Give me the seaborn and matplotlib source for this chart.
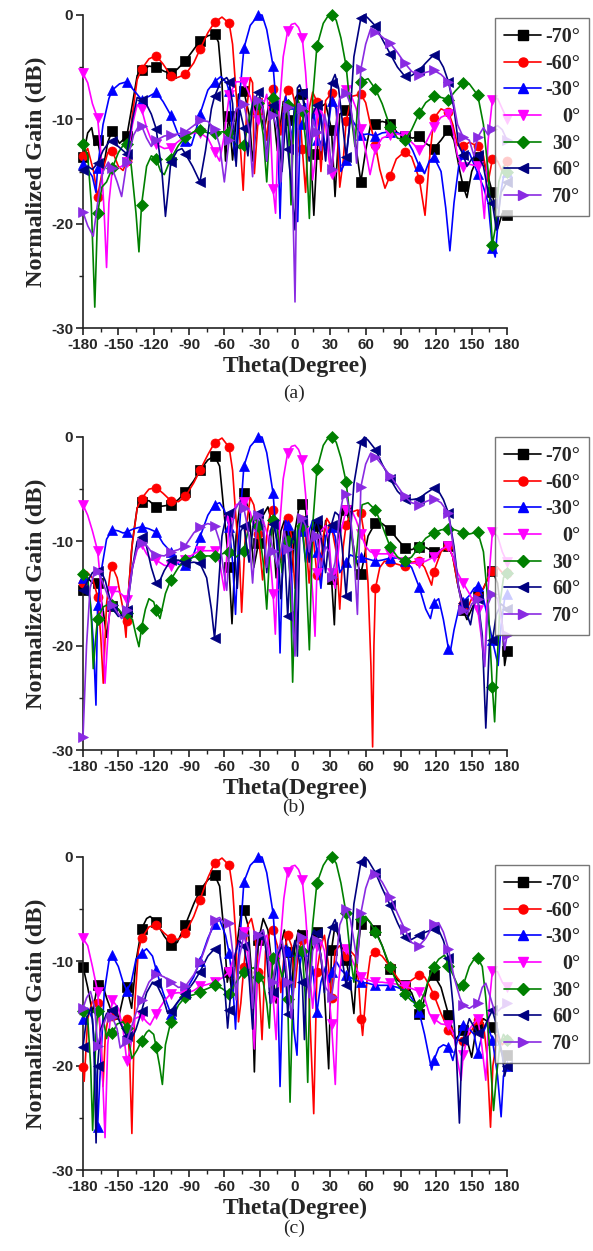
import numpy as np
import matplotlib
matplotlib.use("Agg")
import matplotlib.pyplot as plt
import seaborn as sns
from matplotlib.lines import Line2D

SERIES_LABELS = ["-70°", "-60°", "-30°", "0°", "30°", "60°", "70°"]
COLORS = ["#000000", "#ff0000", "#0000ff", "#ff00ff", "#008000", "#000080", "#8a2be2"]
MARKERS = ["s", "o", "^", "v", "D", "<", ">"]
PANEL_TAGS = ["(a)", "(b)", "(c)"]
X_TICKS = [-180, -150, -120, -90, -60, -30, 0, 30, 60, 90, 120, 150, 180]
Y_TICKS = [0, -10, -20, -30]

# ---------------- panel (a) ----------------
A_M70 = [(-180,-13.6),(-176,-11.3),(-172.6,-10.8),(-170,-12.5),(-167.6,-12.0),(-163,-14.8),(-159,-12.2),(-155.2,-11.1),(-149,-12.3),(-142.8,-11.6),(-138,-8.5),(-134,-5.8),(-130.3,-5.3),(-124,-4.9),(-117.9,-5.0),(-111,-5.4),(-105.5,-5.6),(-100,-5.2),(-93.1,-4.4),(-86,-3.3),(-80.7,-2.5),(-74,-2.0),(-68.3,-1.8),(-65,-2.6),(-62,-6.5),(-59,-14.0),(-57,-10.5),(-55.9,-9.7),(-53,-13.9),(-48,-7.6),(-43.4,-7.3),(-39,-9.5),(-36,-14.0),(-31.0,-8.8),(-26,-11.0),(-22,-8.4),(-18.6,-9.0),(-15,-13.0),(-10,-8.3),(-6.2,-10.1),(-3,-13.0),(0,-8.0),(3,-7.5),(6.2,-7.6),(10,-9.5),(13,-12.5),(16,-19.2),(18.6,-13.3),(22,-8.8),(26,-8.5),(31.0,-11.0),(34,-17.4),(38,-9.5),(43.4,-9.1),(47,-8.8),(51,-12.0),(55.9,-16.0),(60,-13.0),(64,-10.6),(68.3,-10.4),(74,-10.2),(80.7,-10.4),(87,-11.3),(93.1,-11.6),(100,-11.8),(105.5,-11.6),(111,-12.3),(117.9,-12.8),(124,-12.0),(130.3,-11.0),(135,-12.0),(140,-15.0),(142.8,-16.4),(146,-17.5),(150,-15.0),(155.2,-13.6),(160,-14.0),(164,-15.5),(167.6,-17.0),(172,-20.5),(176,-19.0),(180,-19.2)]
A_M60 = [(-180,-13.5),(-176,-12.8),(-171,-15.0),(-167.6,-17.4),(-164,-15.2),(-159,-13.2),(-155.2,-13.0),(-150,-14.5),(-146,-14.9),(-142.8,-14.0),(-138,-9.5),(-134,-6.2),(-130.3,-5.2),(-124,-4.2),(-117.9,-3.9),(-112,-4.7),(-105.5,-5.8),(-100,-6.0),(-93.1,-5.7),(-86,-4.6),(-80.7,-3.3),(-74,-1.7),(-68.3,-0.7),(-62,-0.2),(-55.9,-0.8),(-53,-2.8),(-50,-7.5),(-47,-11.5),(-44,-16.8),(-41,-9.0),(-38,-6.0),(-36,-6.5),(-34.5,-15.2),(-31.0,-9.5),(-28,-8.0),(-24,-12.0),(-21,-8.0),(-18.6,-7.1),(-15,-8.5),(-12,-11.5),(-9,-8.2),(-6.2,-7.2),(-3,-7.0),(0,-8.5),(2,-13.5),(4,-9.0),(6.2,-12.8),(9,-17.0),(12,-9.0),(15,-7.4),(18.6,-8.3),(22,-15.0),(26,-8.2),(31.0,-7.5),(35,-8.8),(38,-16.5),(41,-13.9),(43.4,-10.2),(48,-7.8),(55.9,-7.6),(60,-8.4),(64,-10.5),(68.3,-12.5),(72,-14.8),(76.4,-16.6),(80.7,-15.4),(86,-13.8),(93.1,-13.1),(99,-13.6),(105.5,-15.7),(110.4,-19.2),(114,-14.0),(117.9,-9.9),(124,-9.0),(130.3,-9.3),(134,-10.5),(138,-12.5),(142.8,-12.6),(148,-12.2),(155.2,-12.6),(160,-13.5),(164,-16.0),(167.6,-13.8),(172,-14.0),(176,-15.0),(180,-14.0)]
A_M30 = [(-180,-14.3),(-176,-14.8),(-172,-15.5),(-169,-17.0),(-167.6,-14.7),(-163,-10.5),(-158,-8.0),(-155.2,-7.2),(-149,-6.6),(-142.8,-6.4),(-137,-7.2),(-130.3,-8.1),(-124,-7.8),(-117.9,-7.4),(-112,-8.3),(-105.5,-9.6),(-99,-11.5),(-93.1,-12.1),(-88,-12.5),(-84,-11.0),(-80.7,-9.5),(-74,-7.2),(-68.3,-6.4),(-63,-5.9),(-58,-6.5),(-55.9,-7.3),(-53,-11.5),(-50.5,-14.0),(-48,-9.0),(-43.4,-3.2),(-38,-1.0),(-31.0,0.0),(-28,0.0),(-24,-1.4),(-18.6,-4.9),(-15,-10.0),(-12.7,-19.5),(-10,-9.5),(-8,-7.8),(-6.2,-8.5),(-3,-12.0),(0,-8.8),(2.3,-19.8),(4.5,-10.5),(6.2,-10.4),(9,-8.5),(13,-14.0),(16,-9.0),(18.6,-12.0),(22,-9.5),(26,-13.0),(31.0,-8.2),(35,-9.0),(39,-15.0),(43.4,-13.9),(47,-9.8),(51,-10.5),(55.9,-11.5),(62,-11.4),(68.3,-11.6),(74,-11.3),(80.7,-11.2),(87,-11.3),(93.1,-11.6),(100,-13.0),(105.5,-14.5),(110,-15.2),(114,-14.0),(117.9,-13.6),(124,-15.0),(128,-18.5),(131.5,-22.6),(135,-18.0),(139,-14.5),(142.8,-13.3),(148,-13.2),(155.2,-15.2),(160,-16.5),(164,-18.0),(167.6,-22.3),(170,-23.2),(174,-17.5),(177,-15.5),(180,-15.0)]
A_0 = [(-180,-5.6),(-176,-6.5),(-172,-8.5),(-167.6,-9.9),(-165,-13.0),(-162,-19.0),(-160,-24.2),(-158,-18.0),(-155.2,-14.9),(-150,-14.7),(-146,-14.4),(-142.8,-14.1),(-138,-10.5),(-134,-8.6),(-130.3,-9.0),(-126,-10.8),(-122,-12.0),(-117.9,-12.4),(-111,-12.8),(-105.5,-12.7),(-100,-12.2),(-93.1,-11.6),(-86,-11.3),(-80.7,-11.3),(-74,-11.8),(-68.3,-13.1),(-64,-14.0),(-60,-11.5),(-55.9,-7.7),(-50,-6.4),(-43.4,-6.4),(-38,-7.8),(-34,-9.5),(-31.0,-10.1),(-28,-9.0),(-24,-7.6),(-21,-10.5),(-18.6,-16.7),(-16.5,-19.0),(-14,-10.0),(-10,-4.0),(-6.2,-1.5),(-3,-0.9),(0,-0.8),(3,-1.2),(6.2,-2.2),(9,-5.5),(12,-10.5),(15,-15.8),(17,-14.0),(18.6,-9.4),(22,-9.0),(26,-10.5),(29,-14.0),(31.0,-15.2),(34,-12.0),(38,-8.0),(43.4,-7.2),(48,-7.8),(52,-9.0),(55.9,-10.9),(60,-13.0),(63.7,-15.3),(68.3,-12.8),(74,-11.8),(80.7,-11.5),(87,-11.4),(93.1,-11.6),(99,-12.2),(105.5,-12.9),(110,-12.5),(117.9,-10.7),(124,-9.8),(130.3,-9.5),(134,-11.0),(138,-13.5),(142.8,-14.6),(148,-14.3),(155.2,-14.5),(158,-16.0),(160.8,-19.5),(164,-12.0),(167.6,-8.1),(172,-8.0),(176,-9.0),(180,-10.0)]
A_30 = [(-180,-12.4),(-176,-13.5),(-173,-18.0),(-170,-28.0),(-167.6,-19.0),(-164,-16.5),(-160,-16.0),(-155.2,-14.7),(-150,-13.2),(-146,-12.5),(-142.8,-12.4),(-139,-14.5),(-135,-19.0),(-132.5,-22.7),(-130.3,-18.2),(-126,-14.5),(-122,-13.5),(-117.9,-13.8),(-114,-15.0),(-111,-15.3),(-105.5,-13.8),(-99,-12.5),(-93.1,-11.7),(-86,-11.2),(-80.7,-11.0),(-74,-11.3),(-68.3,-11.3),(-62,-11.2),(-55.9,-11.2),(-51,-12.3),(-47,-12.8),(-43.4,-12.5),(-39,-10.0),(-35,-8.0),(-31.0,-8.4),(-27,-11.5),(-24,-16.0),(-21,-10.0),(-18.6,-8.0),(-15,-9.5),(-11,-14.5),(-8,-9.0),(-6.2,-8.6),(-3.4,-18.2),(-1,-10.0),(2,-8.0),(6.2,-9.2),(9,-12.0),(12.2,-19.5),(15,-8.0),(18.6,-3.0),(24,-0.8),(28,-0.1),(31.0,0.0),(35,-0.5),(39,-2.2),(43.4,-4.9),(47,-9.0),(50.9,-12.6),(53,-9.0),(55.9,-6.4),(62,-6.1),(68.3,-7.1),(74,-8.5),(80.7,-10.7),(87,-11.8),(93.1,-12.0),(99,-11.0),(105.5,-9.4),(111,-8.4),(117.9,-7.8),(124,-7.9),(130.3,-8.1),(136,-7.3),(142.8,-6.5),(148,-6.6),(155.2,-7.7),(160,-10.5),(164,-15.0),(167.6,-22.0),(170,-20.5),(173,-16.0),(177,-14.5),(180,-15.0)]
A_60 = [(-180,-14.9),(-176,-14.5),(-172,-14.8),(-167.6,-14.2),(-163,-13.0),(-158,-12.2),(-155.2,-12.1),(-150,-12.6),(-146,-13.0),(-142.8,-13.3),(-138,-10.0),(-134,-7.9),(-130.3,-8.1),(-126,-8.6),(-122,-9.5),(-117.9,-10.9),(-113,-15.0),(-110,-19.3),(-107,-16.0),(-105.5,-14.1),(-100,-13.0),(-96,-12.8),(-93.1,-13.3),(-87,-14.5),(-80.7,-16.0),(-76,-13.0),(-71,-9.0),(-68.3,-7.8),(-63,-6.4),(-58,-6.0),(-55.9,-6.4),(-53,-8.5),(-50,-14.5),(-47,-9.0),(-43.4,-10.8),(-40,-13.5),(-36,-8.5),(-31.0,-7.4),(-27,-9.0),(-24,-14.0),(-21,-9.0),(-18.6,-8.6),(-15,-10.0),(-11,-15.0),(-8,-10.0),(-6.2,-12.8),(-3,-16.5),(0,-20.6),(2,-7.0),(4,-6.7),(6.2,-7.5),(9,-10.0),(12,-14.0),(15,-9.5),(18.6,-8.6),(22,-10.0),(26,-14.0),(29,-9.5),(31.0,-6.5),(34,-5.7),(37,-7.0),(40,-10.0),(43.4,-13.6),(46,-11.0),(50,-4.0),(55.9,-0.3),(59,0.0),(62,-0.3),(68.3,-1.05),(74,-2.3),(80.7,-3.7),(87,-5.0),(93.1,-5.85),(99,-5.8),(105.5,-5.3),(111,-4.6),(117.9,-3.8),(122,-4.2),(126,-5.0),(130.3,-6.4),(135,-9.0),(139,-12.5),(142.8,-13.4),(146,-14.5),(150,-13.8),(155.2,-13.4),(160,-14.5),(164,-17.0),(167.6,-18.0),(171,-20.6),(175,-17.0),(180,-16.0)]
A_70 = [(-180,-18.9),(-176,-20.2),(-171.3,-21.2),(-167,-17.5),(-163,-15.0),(-158.5,-14.1),(-155.2,-14.7),(-151,-16.0),(-147.2,-17.4),(-144,-15.0),(-142.8,-14.1),(-137,-11.5),(-133,-10.7),(-130.3,-10.6),(-126,-11.8),(-122,-12.6),(-117.9,-12.0),(-111,-11.6),(-105.5,-11.5),(-99,-11.4),(-93.1,-11.2),(-86,-10.6),(-80.7,-10.1),(-74,-10.2),(-68.3,-10.9),(-64,-12.5),(-60,-16.0),(-57,-13.0),(-55.9,-12.0),(-50,-9.0),(-43.4,-8.5),(-39,-11.0),(-36,-15.5),(-33,-9.5),(-31.0,-8.1),(-27,-9.0),(-24,-14.0),(-21,-10.0),(-18.6,-9.6),(-15,-11.0),(-12,-16.0),(-9,-9.5),(-6.2,-8.8),(-3,-12.0),(0,-27.5),(2,-12.0),(4,-8.5),(6.2,-8.9),(9,-9.5),(12,-13.5),(15,-10.0),(18.6,-11.2),(22,-13.0),(25,-9.5),(28,-11.0),(31.0,-14.8),(34,-11.0),(38,-8.0),(43.4,-7.5),(47,-8.5),(50,-11.0),(52.3,-14.2),(55.9,-5.2),(60,-2.8),(64,-1.4),(68.3,-1.6),(74,-2.1),(80.7,-2.7),(87,-3.6),(93.1,-4.6),(99,-5.4),(105.5,-5.75),(111,-5.5),(117.9,-5.3),(124,-5.7),(130.3,-6.4),(134,-8.0),(138,-10.5),(142.8,-11.7),(148,-12.0),(152,-13.5),(155.2,-11.7),(160,-10.8),(164,-11.5),(167.6,-10.9),(172,-10.6),(176,-11.0),(180,-12.0)]

# ---------------- panel (b) ----------------
B_M70 = [(-180,-14.7),(-176,-13.5),(-172,-14.0),(-167.6,-14.0),(-163,-16.5),(-159.9,-19.2),(-157,-16.5),(-155.2,-16.2),(-150,-16.5),(-146,-17.3),(-142.8,-16.8),(-138,-10.0),(-134,-6.8),(-130.3,-6.2),(-124,-6.1),(-117.9,-6.7),(-111,-6.6),(-105.5,-6.5),(-99,-6.0),(-93.1,-5.3),(-86,-4.2),(-80.7,-3.2),(-74,-2.2),(-68.3,-1.8),(-64,-2.8),(-60,-7.5),(-56,-12.5),(-53.5,-17.9),(-50,-9.5),(-46,-5.8),(-43.4,-5.4),(-39,-7.2),(-35,-12.5),(-31.0,-10.2),(-27,-7.5),(-23,-6.7),(-19,-8.5),(-16,-13.5),(-12,-9.0),(-9,-8.0),(-6.2,-9.5),(-3,-13.0),(0,-9.0),(3,-7.0),(6.2,-6.4),(9,-7.0),(12,-11.0),(15,-8.0),(18.6,-8.5),(22,-12.5),(26,-8.0),(31.0,-13.6),(33.4,-18.0),(36,-10.0),(40,-7.2),(43.4,-7.0),(47,-8.5),(51,-11.5),(55.9,-13.1),(58,-12.0),(62,-9.5),(68.3,-8.2),(74,-8.3),(80.7,-8.9),(87,-9.8),(93.1,-10.6),(99,-10.8),(105.5,-10.5),(111,-10.6),(117.9,-11.0),(124,-10.8),(130.3,-10.4),(134,-11.5),(138,-14.0),(142.8,-16.6),(146,-17.5),(150,-16.5),(155.2,-15.2),(160,-14.5),(164,-13.5),(167.6,-12.8),(172,-14.0),(176,-18.0),(178,-21.9),(180,-20.5)]
B_M60 = [(-180,-14.0),(-177,-12.9),(-172,-13.5),(-167.6,-15.3),(-165,-19.0),(-162.8,-23.6),(-160,-16.0),(-157,-13.0),(-155.2,-12.4),(-151,-13.5),(-146,-16.5),(-143.5,-19.2),(-142.8,-17.6),(-139,-11.0),(-134,-6.8),(-130.3,-5.9),(-124,-5.0),(-117.9,-4.85),(-112,-5.4),(-105.5,-6.1),(-99,-6.2),(-93.1,-5.7),(-86,-4.4),(-80.7,-3.2),(-74,-1.7),(-68.3,-0.55),(-62,-0.1),(-55.9,-1.0),(-53,-3.2),(-50,-8.0),(-47,-12.0),(-45.3,-16.8),(-42,-9.0),(-38,-5.8),(-35,-6.5),(-31.0,-9.3),(-27.5,-13.7),(-24,-9.5),(-21,-7.2),(-18.6,-7.0),(-15,-8.5),(-12,-12.0),(-9,-8.5),(-6.2,-7.8),(-3,-9.5),(0,-14.5),(3,-9.5),(6.2,-8.0),(9,-9.5),(12,-14.0),(15,-9.0),(18.6,-13.2),(21.2,-13.4),(24,-9.5),(27,-7.8),(31.0,-8.6),(35,-11.0),(38,-16.5),(41,-10.5),(43.4,-8.4),(48,-7.2),(53,-7.0),(55.9,-7.3),(59,-9.5),(62,-14.0),(64.5,-22.0),(65.9,-29.7),(67,-20.0),(68.3,-14.5),(72,-12.5),(76,-11.9),(80.7,-12.0),(87,-12.2),(93.1,-12.4),(99,-12.0),(105.5,-11.9),(110,-12.5),(116,-14.2),(117.9,-12.9),(124,-11.0),(130.3,-10.4),(134,-11.5),(138,-14.0),(142.8,-16.0),(146,-16.5),(150,-15.5),(155.2,-15.2),(160,-14.5),(164,-13.5),(167.6,-12.8),(172,-12.5),(176,-13.0),(180,-13.0)]
B_M30 = [(-180,-13.5),(-178.3,-13.1),(-174,-15.5),(-171,-20.0),(-169,-25.7),(-167.6,-16.1),(-164,-12.5),(-160,-9.8),(-155.2,-8.9),(-150,-9.0),(-146,-9.2),(-142.8,-9.1),(-137,-8.8),(-130.3,-8.6),(-124,-8.8),(-117.9,-9.1),(-112,-10.2),(-105.5,-11.0),(-99,-12.2),(-93.1,-12.3),(-87,-11.5),(-80.7,-9.6),(-74,-7.5),(-68.3,-6.5),(-64,-6.3),(-60,-7.0),(-55.9,-8.6),(-53,-12.0),(-50.5,-17.0),(-48,-10.0),(-43.4,-2.8),(-38,-0.9),(-31.0,0.0),(-28,0.0),(-24,-1.5),(-18.6,-5.4),(-15,-11.0),(-12.7,-20.7),(-10,-10.0),(-8,-8.0),(-6.2,-8.4),(-3,-12.5),(-1,-20.5),(2,-10.0),(4,-8.0),(6.2,-9.0),(9,-12.0),(12,-9.0),(15,-8.0),(18.6,-11.0),(22,-14.5),(26,-9.5),(31.0,-8.6),(34,-9.5),(38,-13.0),(43.4,-12.0),(47,-11.3),(51,-11.5),(55.9,-11.5),(62,-11.7),(68.3,-11.9),(74,-11.8),(80.7,-11.6),(87,-11.6),(93.1,-11.9),(99,-12.5),(105.5,-14.4),(111,-16.5),(115,-17.4),(117.9,-15.9),(122,-15.5),(126,-17.5),(130.3,-20.3),(132,-20.5),(135,-18.5),(139,-16.5),(142.8,-15.8),(148,-15.2),(152,-14.5),(155.2,-14.3),(160,-15.5),(164,-17.5),(167.6,-19.5),(172.5,-21.9),(175,-18.0),(178,-15.5),(180,-15.0)]
B_0 = [(-180,-6.5),(-176,-7.5),(-172,-9.0),(-167.6,-10.9),(-165,-14.0),(-161.3,-23.6),(-158,-17.5),(-155.2,-14.8),(-150,-14.8),(-146,-15.2),(-142.8,-15.6),(-138,-12.5),(-134,-10.8),(-130.3,-10.3),(-126,-11.2),(-122,-11.8),(-117.9,-11.8),(-111,-12.3),(-105.5,-12.4),(-99,-12.0),(-93.1,-11.8),(-86,-11.2),(-80.7,-10.9),(-74,-10.9),(-68.3,-10.9),(-64,-12.0),(-60,-14.7),(-57,-10.0),(-55.9,-8.0),(-50,-6.5),(-43.4,-6.2),(-38,-7.2),(-34,-9.0),(-31.0,-8.6),(-27,-8.0),(-23,-9.5),(-20,-13.0),(-18.6,-15.0),(-16.7,-18.9),(-14,-10.0),(-10,-4.0),(-6.2,-1.5),(-3,-0.9),(0,-0.8),(3,-1.2),(6.2,-2.2),(9,-5.5),(12,-10.5),(15,-15.0),(17,-19.1),(18.6,-13.0),(22,-9.0),(26,-8.5),(29,-10.0),(31.0,-13.0),(34,-14.5),(38,-9.5),(43.4,-7.0),(48,-7.0),(52,-8.0),(55.9,-9.3),(60,-10.5),(64,-11.0),(68.3,-11.2),(74,-11.2),(80.7,-11.2),(87,-11.6),(93.1,-12.0),(99,-12.1),(105.5,-12.1),(111,-11.9),(117.9,-11.5),(124,-10.8),(130.3,-10.4),(134,-11.5),(138,-13.0),(142.8,-14.0),(148,-15.0),(155.2,-16.6),(158,-19.0),(160.8,-22.0),(163,-16.0),(167.6,-9.1),(172,-9.5),(176,-11.0),(180,-12.0)]
B_30 = [(-180,-13.1),(-176,-13.5),(-173,-17.0),(-171.3,-22.2),(-169,-19.0),(-167.6,-17.4),(-163,-16.3),(-158,-16.0),(-155.2,-16.1),(-150,-16.5),(-146,-17.0),(-142.8,-16.9),(-138,-17.5),(-135,-19.0),(-132.5,-20.1),(-130.3,-18.3),(-127,-16.5),(-124,-15.5),(-120,-15.8),(-117.9,-16.6),(-114.6,-17.4),(-110,-15.0),(-105.5,-13.7),(-99,-12.5),(-93.1,-11.8),(-86,-11.5),(-80.7,-11.4),(-74,-11.4),(-68.3,-11.4),(-62,-11.2),(-55.9,-11.0),(-50,-11.5),(-43.4,-10.9),(-39,-8.5),(-35,-7.5),(-31.0,-8.5),(-27,-12.0),(-24,-16.5),(-21,-10.0),(-18.6,-8.0),(-15,-8.8),(-11,-13.0),(-8,-9.5),(-6.2,-10.0),(-4,-14.0),(-2,-23.5),(0,-15.0),(2,-9.0),(4,-7.8),(6.2,-8.5),(9,-12.0),(12.2,-20.4),(15,-8.5),(18.6,-3.1),(24,-0.8),(28,-0.1),(31.0,0.0),(35,-0.5),(39,-2.0),(43.4,-4.3),(47,-8.0),(51,-12.8),(54,-9.0),(57,-6.5),(62,-6.3),(68.3,-7.0),(74,-8.5),(80.7,-10.5),(87,-11.5),(93.1,-11.9),(99,-11.5),(105.5,-10.5),(111,-9.7),(117.9,-9.2),(124,-8.9),(130.3,-8.8),(136,-8.9),(142.8,-9.2),(148,-9.3),(155.2,-9.1),(160,-11.0),(164,-16.0),(167.6,-24.0),(169.5,-27.3),(171.5,-22.0),(174,-16.0),(177,-13.5),(180,-13.0)]
B_60 = [(-180,-14.7),(-176,-13.8),(-172,-13.0),(-167.6,-12.8),(-165.6,-12.6),(-161,-13.8),(-155.2,-16.4),(-150,-17.2),(-146,-17.0),(-142.8,-16.6),(-138,-12.5),(-134,-10.0),(-130.3,-9.6),(-126,-10.5),(-122,-12.5),(-117.9,-14.0),(-116,-14.1),(-111,-12.8),(-105.5,-11.8),(-99,-11.8),(-93.1,-12.1),(-86,-12.0),(-80.7,-12.1),(-75,-13.5),(-71,-16.5),(-68.3,-19.3),(-66,-16.0),(-62,-9.5),(-58,-7.3),(-55.9,-7.3),(-52,-10.0),(-49,-14.5),(-46,-9.0),(-43.4,-8.5),(-39,-12.0),(-35,-8.0),(-31.0,-7.3),(-27,-9.0),(-24,-13.0),(-21,-9.0),(-18.6,-8.3),(-15,-10.0),(-12,-15.5),(-9,-10.5),(-6.2,-17.2),(-3,-10.0),(0,-9.0),(2,-21.0),(4,-9.5),(6.2,-8.0),(9,-8.5),(12,-12.0),(15,-9.0),(18.6,-8.0),(22,-9.5),(26,-13.0),(29,-9.5),(31.0,-8.4),(34,-7.2),(37,-7.5),(40,-10.5),(43.4,-15.2),(46,-11.0),(50,-4.5),(55.9,-0.5),(59,0.0),(62,-0.3),(68.3,-1.2),(74,-2.6),(80.7,-4.0),(87,-5.2),(93.1,-5.9),(99,-6.0),(105.5,-5.9),(111,-5.4),(117.9,-4.9),(122,-5.2),(126,-6.0),(130.3,-7.3),(135,-10.5),(139,-14.5),(142.8,-15.9),(146,-17.0),(149,-18.0),(152,-16.0),(155.2,-15.5),(159,-19.0),(162,-27.9),(165,-20.0),(167.6,-19.5),(171,-17.0),(175,-16.0),(180,-16.5)]
B_70 = [(-180,-28.8),(-177,-20.0),(-174,-14.5),(-170,-12.8),(-167.6,-12.8),(-163,-14.0),(-158,-15.5),(-155.2,-16.1),(-151,-16.8),(-147.2,-17.4),(-144,-17.0),(-142.8,-16.6),(-138,-12.5),(-134,-10.6),(-130.3,-10.2),(-126,-10.4),(-122,-11.0),(-117.9,-11.3),(-111,-11.4),(-105.5,-11.0),(-99,-10.8),(-93.1,-10.4),(-86,-9.2),(-80.7,-8.6),(-74,-8.3),(-68.3,-8.5),(-64,-10.0),(-61,-12.5),(-58,-14.7),(-55,-10.0),(-51,-7.0),(-47,-6.2),(-43.4,-6.8),(-39,-9.5),(-36,-14.0),(-33,-9.0),(-31.0,-7.5),(-27,-8.0),(-24,-12.5),(-21,-9.5),(-18.6,-10.9),(-15,-12.5),(-12,-11.0),(-9,-9.0),(-6.2,-10.7),(-3,-14.5),(0,-21.0),(2,-13.0),(4,-9.0),(6.2,-7.8),(9,-8.5),(12,-11.0),(15,-9.0),(18.6,-9.5),(22,-12.5),(26,-10.5),(29,-11.0),(31.0,-13.4),(34,-12.0),(38,-7.5),(41,-5.6),(43.4,-5.5),(47,-7.5),(50,-11.0),(53,-17.0),(55.9,-4.8),(60,-2.6),(64,-1.6),(68.3,-1.9),(74,-2.7),(80.7,-3.7),(87,-4.7),(93.1,-5.7),(99,-6.3),(105.5,-6.5),(111,-6.2),(117.9,-5.9),(124,-6.3),(130.3,-7.3),(135,-11.0),(139,-14.5),(142.8,-16.6),(146,-17.0),(150,-16.0),(155.2,-15.5),(158.4,-19.0),(161,-22.0),(164,-16.0),(167.6,-15.0),(172,-15.5),(176,-18.0),(178,-20.4),(180,-19.0)]

# ---------------- panel (c) ----------------
C_M70 = [(-180,-10.5),(-176,-12.5),(-172,-14.9),(-167.6,-12.3),(-164,-12.0),(-160,-13.5),(-155.2,-15.0),(-150,-15.5),(-146,-13.5),(-142.8,-12.5),(-138.7,-14.5),(-135,-10.0),(-130.3,-6.9),(-126,-5.9),(-123,-5.7),(-117.9,-6.2),(-111,-7.6),(-105.5,-8.4),(-100,-8.2),(-93.1,-6.5),(-86,-4.5),(-80.7,-3.2),(-74,-2.2),(-68.3,-1.7),(-64,-2.8),(-60,-7.5),(-57.5,-12.0),(-55.9,-11.0),(-53,-13.4),(-50,-9.0),(-46,-5.6),(-43.4,-5.1),(-40,-6.5),(-37,-11.0),(-34.5,-20.6),(-32,-10.0),(-31.0,-8.0),(-27,-5.9),(-23,-7.0),(-19,-11.0),(-16,-14.0),(-13,-9.0),(-9,-7.0),(-6.2,-9.1),(-3,-12.5),(0,-8.5),(3,-7.0),(6.2,-7.5),(9,-10.5),(12,-13.0),(15,-8.0),(18.6,-7.2),(22,-9.5),(25,-13.0),(28.6,-20.3),(31.0,-8.9),(34,-6.5),(38,-8.0),(43.4,-9.9),(47,-12.0),(50,-15.0),(53,-9.5),(55.9,-6.4),(60,-5.8),(64,-6.3),(68.3,-7.0),(74,-8.5),(80.7,-10.7),(87,-11.8),(93.1,-12.3),(99,-13.0),(105.5,-15.0),(108,-14.5),(113,-12.0),(117.9,-11.3),(124,-12.5),(130.3,-15.1),(136,-17.5),(142.8,-16.6),(146,-17.5),(150,-19.2),(153,-17.0),(155.2,-16.3),(160,-15.5),(164,-15.8),(167.6,-16.3),(172,-17.5),(176,-19.0),(178,-19.8),(180,-19.0)]
C_M60 = [(-180,-20.1),(-179,-21.5),(-176,-15.5),(-172,-13.8),(-167.6,-14.0),(-165,-17.0),(-163,-22.0),(-161,-17.0),(-158,-15.0),(-155.2,-15.2),(-150,-15.5),(-146,-15.7),(-142.8,-15.5),(-140.5,-19.0),(-138.5,-26.5),(-136,-14.0),(-133,-9.0),(-130.3,-7.8),(-124,-6.7),(-117.9,-6.5),(-111,-7.3),(-105.5,-7.8),(-99,-7.9),(-93.1,-7.3),(-86,-5.7),(-80.7,-4.1),(-74,-2.0),(-68.3,-0.6),(-62,-0.1),(-55.9,-0.8),(-53,-3.0),(-50,-8.0),(-48,-15.8),(-46,-14.0),(-43.4,-10.5),(-40,-6.5),(-37,-5.9),(-34,-7.5),(-31.0,-11.0),(-28,-17.5),(-25,-9.0),(-21,-7.0),(-18.6,-7.0),(-15,-8.5),(-12,-13.0),(-9,-9.0),(-6.2,-7.5),(-3,-8.5),(0,-12.5),(3,-9.0),(6.2,-8.0),(9,-9.5),(12,-13.5),(15.9,-24.6),(18.6,-11.0),(22,-8.5),(25,-7.5),(28,-10.0),(31.0,-13.5),(34,-9.0),(38,-8.5),(43.4,-9.5),(47,-9.0),(51,-9.5),(54,-12.0),(55.9,-15.5),(57.4,-17.1),(61,-12.0),(64,-9.5),(68.3,-9.1),(74,-9.5),(80.7,-10.5),(87,-11.6),(93.1,-12.4),(99,-11.8),(105.5,-11.3),(110,-11.5),(114,-12.3),(117.9,-13.2),(124,-15.0),(130.3,-16.6),(136,-17.5),(142.8,-17.6),(148,-17.0),(155.2,-15.6),(160,-16.0),(163,-19.0),(166,-25.9),(168,-20.0),(172,-17.0),(176,-18.0),(180,-17.5)]
C_M30 = [(-180,-15.5),(-176,-14.5),(-172,-15.5),(-169,-21.0),(-167.6,-25.9),(-166,-22.0),(-162,-13.0),(-158,-10.0),(-155.2,-9.4),(-150,-10.5),(-146,-12.0),(-142.8,-12.8),(-139,-12.0),(-135,-9.8),(-130.3,-9.2),(-126,-8.8),(-121,-9.5),(-117.9,-10.8),(-112,-13.0),(-105.5,-15.0),(-100,-14.0),(-93.1,-12.9),(-86,-11.5),(-80.7,-10.0),(-74,-7.8),(-68.3,-6.4),(-64,-6.0),(-59,-7.5),(-55.9,-9.2),(-53,-12.0),(-50.5,-16.5),(-48,-10.0),(-43.4,-2.4),(-38,-0.8),(-31.0,0.0),(-28,0.0),(-24,-1.5),(-18.6,-5.4),(-15,-11.0),(-12.7,-22.0),(-10,-11.0),(-8,-8.5),(-6.2,-9.0),(-3,-12.0),(-1,-16.5),(1.7,-19.0),(4,-10.5),(6.2,-9.0),(9,-9.5),(12,-13.0),(15,-10.5),(18.6,-14.9),(22,-12.0),(26,-10.5),(29,-12.0),(31.0,-11.0),(35,-10.0),(39,-10.8),(43.4,-11.3),(48,-11.6),(55.9,-12.0),(62,-12.1),(68.3,-12.3),(74,-12.3),(80.7,-12.3),(87,-12.5),(93.1,-12.8),(99,-13.5),(105.5,-14.9),(110,-17.0),(116,-20.4),(117.9,-19.5),(122,-18.3),(126,-18.0),(130.3,-18.2),(134,-19.5),(138,-17.5),(142.8,-16.1),(148,-16.5),(152,-17.0),(155.2,-18.8),(159,-17.0),(163,-16.0),(167.6,-17.5),(172,-21.0),(175,-24.9),(177,-21.0),(180,-20.0)]
C_0 = [(-180,-7.8),(-176,-8.5),(-172,-10.5),(-167.6,-12.9),(-165,-17.0),(-163,-22.0),(-161.3,-26.9),(-159,-18.0),(-155.2,-13.7),(-150,-14.5),(-146,-16.5),(-142.8,-19.6),(-140,-18.5),(-136,-15.5),(-130.3,-15.2),(-126,-15.8),(-123,-16.1),(-117.9,-15.0),(-111,-13.8),(-105.5,-13.1),(-99,-13.0),(-93.1,-13.1),(-86,-12.8),(-80.7,-12.4),(-74,-12.2),(-68.3,-12.0),(-62,-11.6),(-55.9,-11.0),(-50,-9.0),(-46,-7.5),(-43.4,-7.2),(-40,-9.5),(-37,-14.0),(-34.5,-18.4),(-32,-11.0),(-28,-8.0),(-24,-7.5),(-21,-9.5),(-18.6,-13.5),(-16,-17.5),(-13,-9.0),(-9.5,-4.0),(-6.2,-1.4),(-3,-0.9),(0,-0.8),(3,-1.2),(6.2,-2.2),(9,-5.5),(12,-10.5),(15,-14.5),(17,-12.0),(18.6,-8.5),(22,-8.0),(25,-9.0),(28,-12.0),(31.0,-16.0),(34.2,-21.8),(37,-12.0),(40,-9.0),(43.4,-8.8),(47,-9.5),(51,-10.5),(55.9,-11.5),(62,-11.8),(68.3,-12.0),(74,-12.0),(80.7,-12.1),(87,-12.2),(93.1,-12.4),(99,-12.6),(105.5,-12.9),(110,-13.5),(114,-15.0),(117.9,-15.5),(124,-16.0),(130.3,-16.1),(135,-17.0),(138,-19.5),(141,-21.4),(142.8,-19.0),(148,-16.5),(155.2,-15.5),(158,-17.5),(162,-21.4),(165,-14.0),(167.6,-10.9),(172,-11.0),(176,-12.0),(180,-12.5)]
C_30 = [(-180,-14.8),(-176,-15.5),(-173.5,-20.0),(-171.8,-26.2),(-169,-17.0),(-167.6,-14.8),(-164,-14.6),(-160,-17.4),(-158,-16.5),(-155.2,-16.9),(-151,-16.0),(-146,-15.8),(-142.8,-16.4),(-140.5,-18.0),(-138.5,-19.3),(-134,-18.5),(-130.3,-17.6),(-126,-16.8),(-124,-16.6),(-120,-17.0),(-117.9,-18.2),(-115,-20.0),(-112.6,-21.8),(-110,-18.0),(-105.5,-15.8),(-99,-14.2),(-93.1,-13.4),(-86,-13.2),(-80.7,-12.9),(-74,-12.6),(-68.3,-12.3),(-62,-12.6),(-55.9,-13.1),(-50,-12.0),(-43.4,-11.0),(-39,-10.8),(-35,-10.6),(-31.0,-11.5),(-27,-12.0),(-24,-14.0),(-21.8,-16.4),(-20,-11.5),(-18.6,-9.7),(-15,-9.5),(-11,-11.5),(-8,-10.5),(-6.2,-13.6),(-4.2,-23.5),(-2,-14.0),(0,-9.5),(3,-8.5),(6.2,-9.0),(8.5,-13.0),(10.8,-21.6),(13,-10.0),(15,-6.5),(18.6,-2.5),(24,-0.8),(28,-0.1),(31.0,0.0),(35,-0.6),(39,-2.5),(43.4,-5.4),(47,-9.5),(50,-12.0),(53,-8.0),(55.9,-5.9),(60,-5.7),(64,-6.3),(68.3,-7.2),(74,-8.5),(80.7,-10.5),(87,-12.2),(93.1,-13.1),(99,-13.8),(105.5,-14.2),(110,-13.0),(114,-11.5),(117.9,-10.5),(122,-9.8),(127,-9.4),(130.3,-10.4),(135,-11.5),(140,-12.8),(142.8,-12.3),(148,-10.5),(152,-9.8),(155.2,-9.7),(159,-10.5),(162,-13.5),(165,-18.0),(168.6,-24.3),(171,-21.0),(174,-18.0),(177,-17.0),(180,-17.5)]
C_60 = [(-180,-18.2),(-177,-15.5),(-173,-14.4),(-171,-17.0),(-168.9,-27.4),(-167.6,-20.0),(-165,-16.5),(-160,-15.0),(-155.2,-14.7),(-150,-15.5),(-146,-16.5),(-142.8,-17.2),(-139,-17.5),(-135,-16.5),(-130.3,-14.8),(-126,-13.0),(-121,-12.0),(-117.9,-12.1),(-112,-13.5),(-108,-15.0),(-105.5,-14.8),(-99,-13.8),(-93.1,-13.1),(-86,-12.0),(-80.7,-11.0),(-74,-9.5),(-68.3,-8.8),(-64,-9.2),(-60,-12.0),(-57.2,-16.4),(-55.9,-14.7),(-52,-10.0),(-48,-8.0),(-43.4,-8.5),(-39,-11.5),(-36,-16.5),(-33,-9.5),(-31.0,-7.5),(-27,-7.0),(-24,-9.5),(-21,-14.0),(-18.6,-12.9),(-15,-9.5),(-11,-8.5),(-8,-11.0),(-6.2,-15.0),(-3,-9.5),(0,-8.0),(3,-9.5),(6.2,-12.0),(8,-17.5),(10,-11.0),(13,-8.0),(16,-7.0),(18.6,-7.3),(22,-9.5),(25,-13.0),(28,-8.0),(31.0,-6.7),(34,-6.0),(38,-7.5),(41,-10.5),(43.4,-12.3),(46,-11.0),(50,-4.5),(55.9,-0.5),(59,0.0),(62,-0.3),(68.3,-1.5),(74,-3.0),(80.7,-4.6),(87,-6.3),(93.1,-7.7),(99,-7.9),(105.5,-7.5),(111,-7.2),(117.9,-6.9),(122,-7.0),(126,-8.0),(130.3,-9.7),(134,-14.0),(137,-19.0),(139.6,-25.5),(141.5,-19.0),(142.8,-17.5),(148,-15.5),(155.2,-16.9),(160,-16.5),(164,-15.5),(167.6,-14.7),(172,-16.5),(176,-19.0),(178,-21.0),(180,-20.0)]
C_70 = [(-180,-14.5),(-177,-13.5),(-173.6,-12.9),(-170,-14.5),(-167.6,-18.1),(-164,-16.5),(-159,-15.0),(-155.2,-15.3),(-151,-16.5),(-148.4,-18.3),(-145,-17.8),(-142.8,-17.6),(-138,-16.0),(-133,-14.2),(-130.3,-13.7),(-124,-12.0),(-117.9,-11.2),(-111,-11.5),(-105.5,-12.0),(-99,-12.5),(-93.1,-12.4),(-86,-11.3),(-80.7,-10.1),(-74,-8.0),(-68.3,-6.0),(-64,-5.8),(-60,-6.4),(-55.9,-6.3),(-53,-9.0),(-50,-13.7),(-47,-9.5),(-43.4,-7.5),(-39,-9.0),(-36,-14.5),(-33,-9.0),(-31.0,-7.5),(-27,-7.0),(-23,-9.0),(-20,-14.0),(-18.6,-12.0),(-15,-9.0),(-11,-8.0),(-8,-10.0),(-6.2,-12.0),(-3,-15.5),(0,-11.0),(3,-8.0),(6.2,-7.7),(9,-9.5),(12,-13.5),(15,-9.0),(18.6,-8.0),(22,-9.5),(26,-12.5),(31.0,-13.4),(34,-11.0),(38,-6.5),(43.4,-5.0),(47,-6.0),(50,-8.0),(53,-10.2),(55.9,-5.4),(60,-3.0),(64,-1.7),(68.3,-1.6),(74,-2.4),(80.7,-3.8),(87,-5.4),(93.1,-6.9),(99,-8.2),(105.5,-8.5),(111,-7.8),(117.9,-6.4),(122,-6.3),(126,-7.2),(130.3,-8.8),(135,-11.5),(140,-13.5),(142.8,-14.2),(148,-14.5),(155.2,-14.0),(159,-12.5),(162,-12.1),(166,-13.5),(170,-15.0),(175,-14.5),(180,-14.0)]

PANELS = [
    [A_M70, A_M60, A_M30, A_0, A_30, A_60, A_70],
    [B_M70, B_M60, B_M30, B_0, B_30, B_60, B_70],
    [C_M70, C_M60, C_M30, C_0, C_30, C_60, C_70],
]

# ---------------- layout ----------------
W, H, DPI = 593, 1251, 100
AX_LEFT, AX_RIGHT = 83, 507
AX_TOPS = [15, 437, 857]
AX_BOTTOMS = [328, 750, 1170]
LEG_TOPS = [18, 437, 865]
TAG_Y = [393, 807, 1228]
GRID_STEP = 360.0 / 29

sns.set_theme(style="ticks")
plt.rcParams["font.family"] = ["Liberation Sans", "DejaVu Sans"]
plt.rcParams["axes.unicode_minus"] = False

fig = plt.figure(figsize=(W / DPI, H / DPI), dpi=DPI)
fig.patch.set_facecolor("white")

def marker_idx(th):
    k = (np.asarray(th) + 180.0) / GRID_STEP
    return list(np.where(np.abs(k - np.round(k)) < 0.012)[0])

serif_bold = dict(family=["Liberation Serif", "DejaVu Serif"], weight="bold")
legends = []

for p, series in enumerate(PANELS):
    top, bot = AX_TOPS[p], AX_BOTTOMS[p]
    ax = fig.add_axes([AX_LEFT / W, 1 - bot / H, (AX_RIGHT - AX_LEFT) / W, (bot - top) / H])
    ax.set_facecolor("white")
    for s, pts in enumerate(series):
        th = [q[0] for q in pts]
        g = [q[1] for q in pts]
        sns.lineplot(x=th, y=g, ax=ax, color=COLORS[s], marker=MARKERS[s],
                     markevery=marker_idx(th), markersize=6.5,
                     markeredgecolor=COLORS[s], markeredgewidth=0.5,
                     linewidth=1.2, estimator=None, sort=False, legend=False,
                     clip_on=False, zorder=2 + s)
    ax.set_xlim(-180, 180)
    ax.set_ylim(-30, 0)
    ax.set_xticks(X_TICKS)
    ax.set_xticklabels([str(t) for t in X_TICKS])
    ax.set_xticks(np.arange(-165, 180, 30), minor=True)
    ax.set_yticks(Y_TICKS)
    ax.set_yticklabels([str(t) for t in Y_TICKS])
    ax.set_yticks([-5, -15, -25], minor=True)
    ax.tick_params(axis="both", which="major", direction="out", length=5, width=1.2,
                   labelsize=11, pad=2, color="#222222")
    ax.tick_params(axis="both", which="minor", direction="out", length=3, width=1.0,
                   color="#222222")
    for lab in ax.get_xticklabels() + ax.get_yticklabels():
        lab.set_fontweight("bold")
        lab.set_family(["Liberation Sans", "DejaVu Sans"])
    sns.despine(ax=ax)
    for sp in ["left", "bottom"]:
        ax.spines[sp].set_linewidth(1.2)
        ax.spines[sp].set_color("#222222")
    ax.set_xlabel("Theta(Degree)", fontsize=17, labelpad=3, **serif_bold)
    ax.set_ylabel("Normalized Gain (dB)", fontsize=17.5, labelpad=3, **serif_bold)
    ax.grid(False)

    handles = [Line2D([], [], color=COLORS[s], marker=MARKERS[s], markersize=6.5,
                      markeredgecolor=COLORS[s], linewidth=1.2)
               for s in range(len(SERIES_LABELS))]
    leg = fig.legend(handles, SERIES_LABELS, loc="upper left",
                     bbox_to_anchor=(495 / W, 1 - LEG_TOPS[p] / H),
                     bbox_transform=fig.transFigure, frameon=True, fancybox=False,
                     borderaxespad=0, borderpad=0.45, labelspacing=0.33,
                     handlelength=1.85, handletextpad=0.2,
                     prop=dict(family=["Liberation Serif", "DejaVu Serif"],
                               weight="bold", size=14.5))
    leg.get_frame().set_edgecolor("#555555")
    leg.get_frame().set_linewidth(1.0)
    leg.get_frame().set_facecolor("white")
    leg.set_zorder(10)
    legends.append(leg)

    fig.text(294 / W, 1 - TAG_Y[p] / H, PANEL_TAGS[p], ha="center", va="center",
             fontsize=14, family=["Liberation Serif", "DejaVu Serif"])

# right-align legend labels (shift each label inside its box)
fig.canvas.draw()
for leg in legends:
    texts = leg.get_texts()
    widths = [t.get_window_extent().width for t in texts]
    wmax = max(widths)
    for t, w in zip(texts, widths):
        t.set_position((wmax - w, 0))

fig.savefig("out.png", dpi=DPI, facecolor="white")
